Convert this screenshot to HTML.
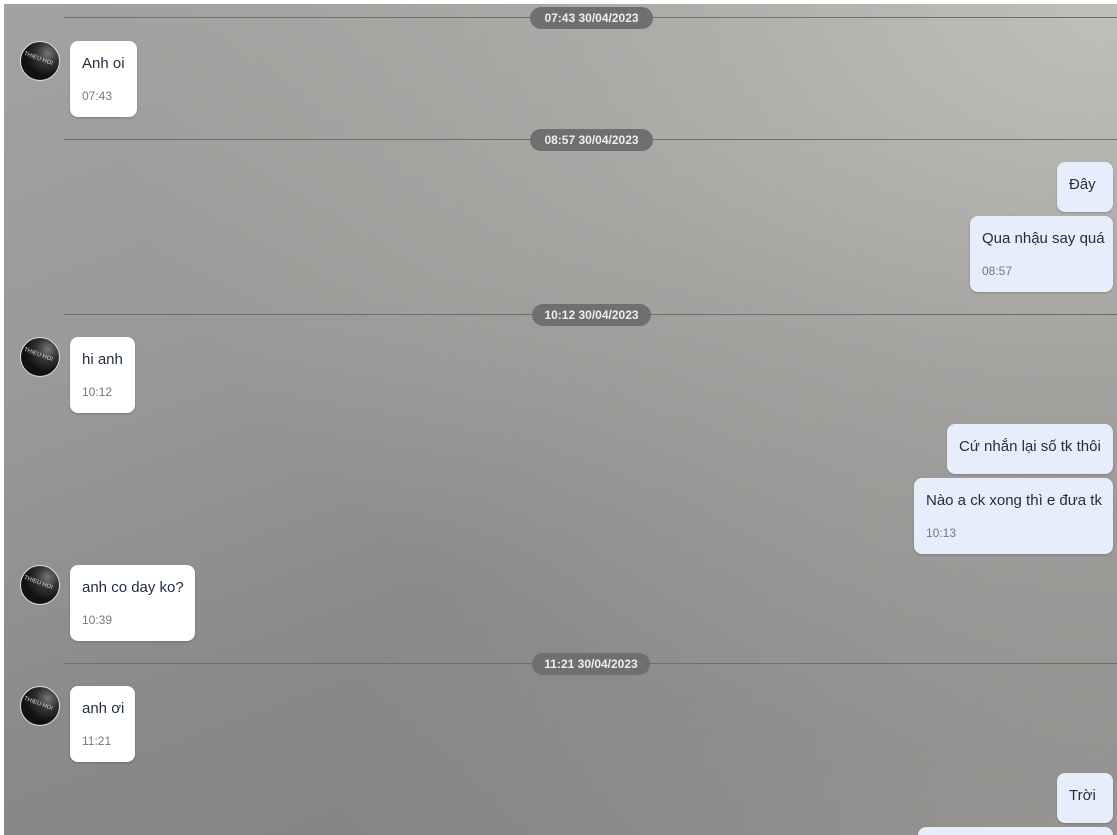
<!DOCTYPE html>
<html style="overflow:hidden;width:1117px;height:835px"><head><meta charset="utf-8"><style>
*{margin:0;padding:0;box-sizing:border-box}
body{width:1117px;height:835px;overflow:hidden;background:#fff;font-family:"Liberation Sans",sans-serif;position:relative}
#bg{position:absolute;left:4px;top:4px;width:1113px;height:831px;
background:linear-gradient(160deg,#a4a2a0 0%,#9a9896 35%,#8a8a89 60%,#7e7e7e 100%);}
#bg2{position:absolute;left:4px;top:4px;width:1113px;height:831px;
background:radial-gradient(ellipse at 100% 0%,rgba(200,198,194,0.85) 0%,rgba(190,188,184,0.4) 35%,rgba(0,0,0,0) 65%),radial-gradient(ellipse at 100% 100%,rgba(170,166,162,0.6) 0%,rgba(0,0,0,0) 50%);}
.line{position:absolute;left:64px;right:0;height:1px;background:#6e6e6e}
.pill{position:absolute;left:530px;width:123px;height:22px;border-radius:11px;background:#6f6f6f;color:#eee;font-size:12px;font-weight:bold;text-align:center;line-height:22px}
.b{position:absolute;border-radius:8px;font-size:15px;color:#1f2d3d;padding:0 12px;box-shadow:0 1px 2px rgba(0,0,0,.2)}
.l{background:#fff;left:70px}
.r{background:#e6eefc;right:4px}
.b .t{position:absolute;top:14px;white-space:nowrap}
.b .tm{position:absolute;top:48px;font-size:12px;color:#777}
.av{position:absolute;left:20px;width:40px;height:40px;border-radius:50%;border:1.5px solid #ddd;background:radial-gradient(circle at 70% 30%,#777 0%,#333 30%,#111 60%);overflow:hidden}
.av span{position:absolute;top:14px;left:2px;font-size:6px;color:#ddd;transform:rotate(20deg)}
</style></head><body>
<div id="bg"></div><div id="bg2"></div>
<div class="line" style="top:17px"></div><div class="pill" style="top:7px">07:43 30/04/2023</div>
<div class="av" style="top:41px"><span>THIEU HOI</span></div>
<div class="b l" style="top:41px;width:67px;height:76px"><span class="t">Anh oi</span><span class="tm">07:43</span></div>

<div class="line" style="top:139px"></div><div class="pill" style="top:129px">08:57 30/04/2023</div>
<div class="b r" style="top:162px;width:56px;height:50px"><span class="t">Đây</span></div>
<div class="b r" style="top:216px;width:143px;height:76px"><span class="t">Qua nhậu say quá</span><span class="tm">08:57</span></div>

<div class="line" style="top:314px"></div><div class="pill" style="top:304px;left:532px;width:119px">10:12 30/04/2023</div>
<div class="av" style="top:337px"><span>THIEU HOI</span></div>
<div class="b l" style="top:337px;width:65px;height:76px"><span class="t">hi anh</span><span class="tm">10:12</span></div>
<div class="b r" style="top:424px;width:166px;height:50px"><span class="t">Cứ nhắn lại số tk thôi</span></div>
<div class="b r" style="top:478px;width:199px;height:76px"><span class="t">Nào a ck xong thì e đưa tk</span><span class="tm">10:13</span></div>
<div class="av" style="top:565px"><span>THIEU HOI</span></div>
<div class="b l" style="top:565px;width:125px;height:76px"><span class="t">anh co day ko?</span><span class="tm">10:39</span></div>

<div class="line" style="top:663px"></div><div class="pill" style="top:653px;left:532px;width:118px">11:21 30/04/2023</div>
<div class="av" style="top:686px"><span>THIEU HOI</span></div>
<div class="b l" style="top:686px;width:65px;height:76px"><span class="t">anh ơi</span><span class="tm">11:21</span></div>
<div class="b r" style="top:773px;width:56px;height:50px"><span class="t">Trời</span></div>
<div class="b r" style="top:827px;width:195px;height:8px;border-radius:8px 8px 0 0"></div>
</body></html>
